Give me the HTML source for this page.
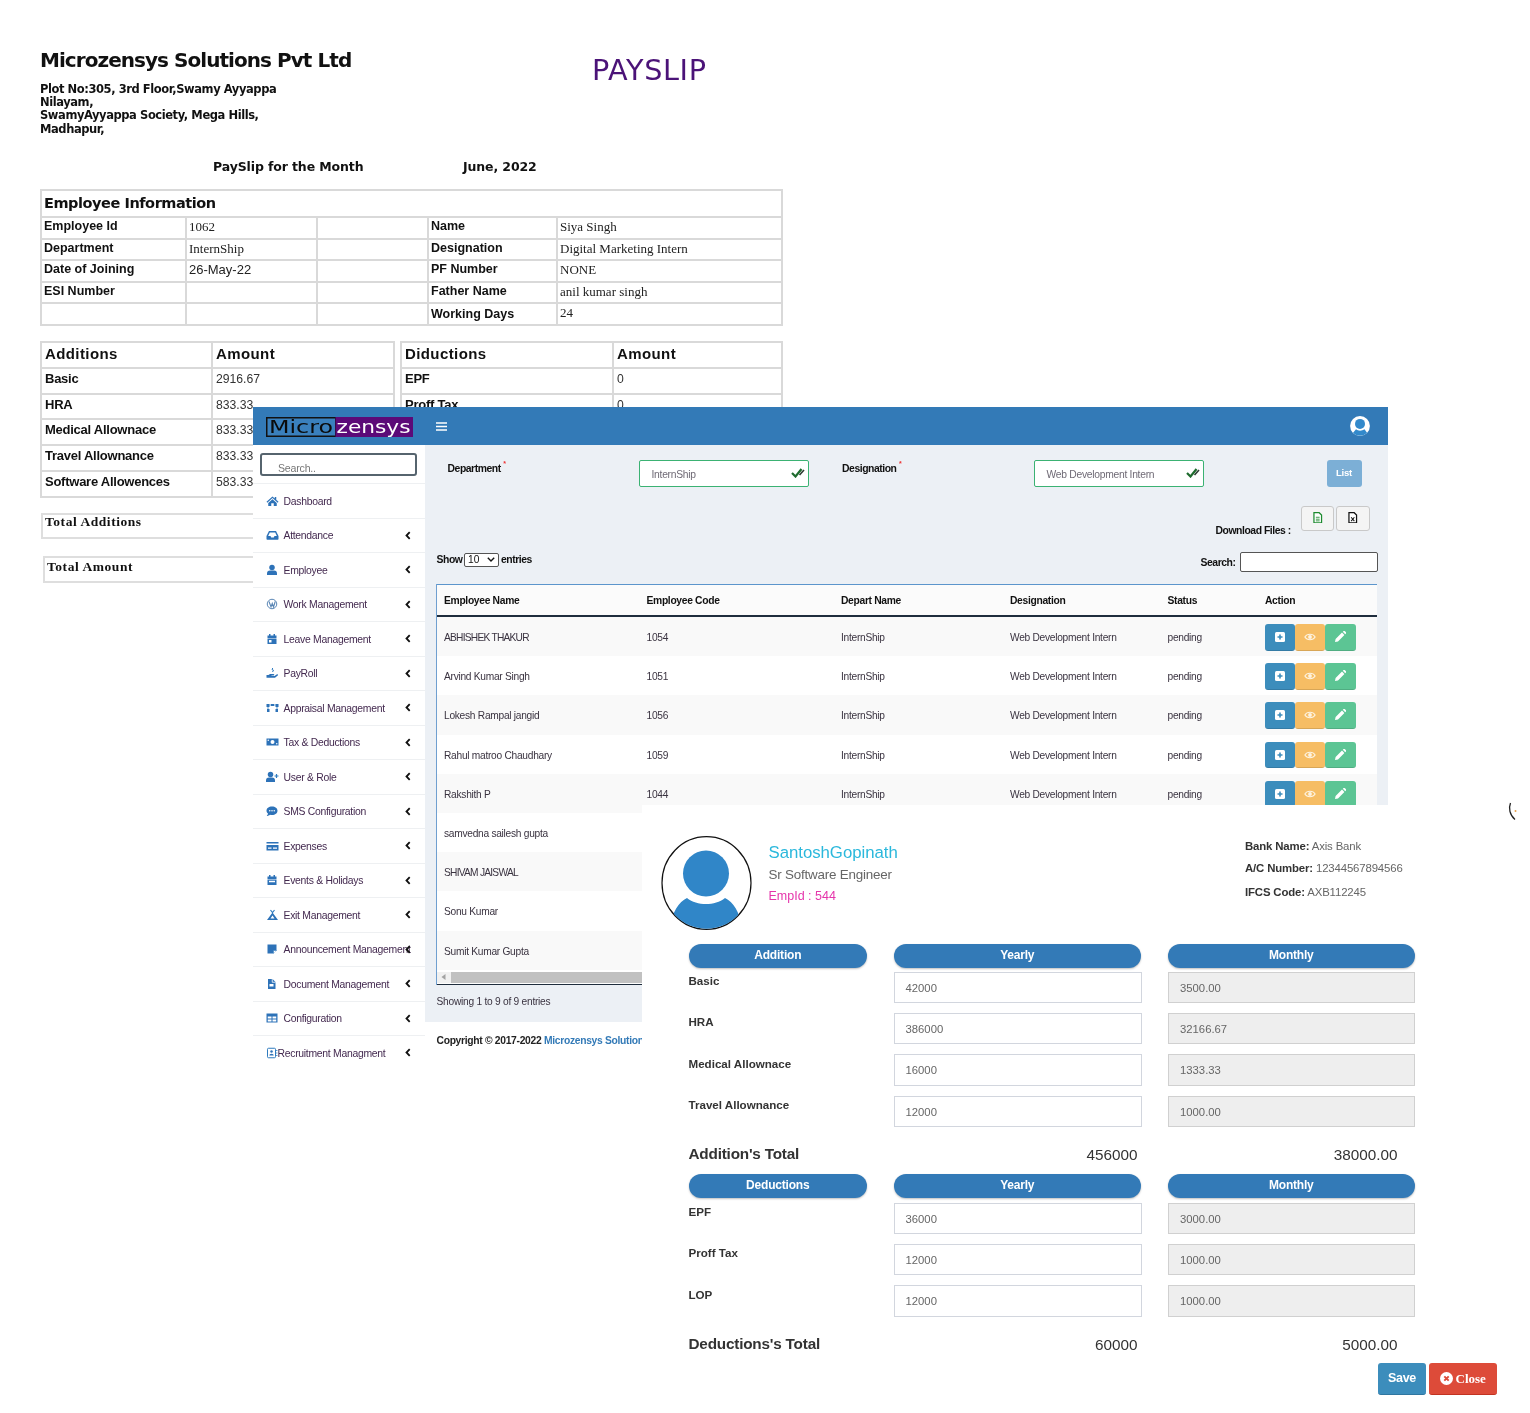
<!DOCTYPE html>
<html lang="en">
<head>
<meta charset="utf-8">
<title>Payroll</title>
<style>
*{box-sizing:border-box;margin:0;padding:0}
html,body{width:1530px;height:1413px;background:#fff;overflow:hidden}
body{position:relative;font-family:"Liberation Sans",sans-serif;color:#111}
.abs{position:absolute}
/* ---------- PAYSLIP ---------- */
#slip{position:absolute;left:0;top:0;width:800px;height:620px;background:#fff}
#slip .co{position:absolute;left:40px;top:47px;font:bold 20px/26px "DejaVu Sans",sans-serif;color:#111;white-space:nowrap;letter-spacing:-0.95px}
#slip .addr{position:absolute;left:40px;top:82.5px;font:bold 11.5px/13.4px "DejaVu Sans",sans-serif;color:#111;white-space:nowrap;letter-spacing:-0.43px}
#slip .ttl{position:absolute;left:592px;top:51.5px;font:28.7px/36px "DejaVu Sans",sans-serif;color:#4b1378;white-space:nowrap;letter-spacing:0.6px}
#slip .mon{position:absolute;top:158px;font:bold 12.5px/18px "DejaVu Sans",sans-serif;color:#111;white-space:nowrap;letter-spacing:-0.12px}
table.ps{position:absolute;border-collapse:collapse;border:2px solid #d9d9d9;table-layout:fixed}
table.ps td{border:2px solid #d9d9d9;padding:0 2px;white-space:nowrap;overflow:hidden;vertical-align:top}

table.ps .h{font:bold 14.5px/24px "DejaVu Sans",sans-serif;letter-spacing:-0.45px}
table.ps .l{font:bold 12.5px/17px "Liberation Sans",sans-serif}
table.ps .v{font:13px/17px "Liberation Serif",serif;color:#222}
table.ps .a{font:13px/17px "Liberation Sans",sans-serif;color:#222}
table.ad td{padding:0 3px}
table.ad .h{font:bold 15px/22px "Liberation Sans",sans-serif;letter-spacing:0.4px}
table.ad .l{font:bold 13px/19px "Liberation Sans",sans-serif;letter-spacing:-0.25px}
table.ad .a{font:12.2px/20px "Liberation Sans",sans-serif;color:#333}
.tot{position:absolute;border:2px solid #dedede;font:bold 13.5px/17px "Liberation Serif",serif;padding:0 2px;letter-spacing:0.55px;color:#111}

/* ---------- ADMIN ---------- */
#adm{position:absolute;left:253px;top:407px;width:1135px;height:680px;background:#fff;overflow:hidden;font-family:"Liberation Sans",sans-serif;color:#3a3340}
#bar{position:absolute;left:0;top:0;width:1135px;height:38px;background:#337ab7}
#logo{position:absolute;left:13px;top:10px;width:147px;height:20px}
#side{position:absolute;left:0;top:38px;width:172px;height:642px;background:#fff}
#sbox{position:absolute;left:7px;top:8px;width:157px;height:23px;border:2px solid #56646e;border-radius:3px;font:10.6px/26px "Liberation Sans",sans-serif;color:#777;padding-left:16px;letter-spacing:-0.2px}
.mi{position:absolute;left:0;width:172px;height:34.5px;border-top:1.5px solid #eef0f2;font:10.4px/34px "Liberation Sans",sans-serif;color:#43294f;white-space:nowrap;letter-spacing:-0.28px}
.mi>svg{position:absolute;left:13px;top:10.5px;width:13px;height:12px;fill:#2d72b8}
.mi span{position:absolute;left:30.5px;top:0.5px}
.mi i{position:absolute;left:152px;top:12px;width:6px;height:9px;line-height:0}
#main{position:absolute;left:172px;top:38px;width:963px;height:577px;background:#ecf0f5}
.lb{position:absolute;font:bold 10.4px/14px "Liberation Sans",sans-serif;color:#111;white-space:nowrap;letter-spacing:-0.45px}
.sel{position:absolute;height:27px;width:170px;background:#fff;border:1.5px solid #3bb273;border-radius:2px;font:10.3px/27px "Liberation Sans",sans-serif;color:#6f6a75;padding-left:11.5px;white-space:nowrap;letter-spacing:-0.27px}
.sel svg{position:absolute;right:3px;top:6px;width:14px;height:11px}
.dl{position:absolute;top:60.5px;width:33px;height:25px;background:#f4f4f4;border:1px solid #c9c9c9;border-radius:3px}
.dl svg{position:absolute;left:11px;top:5px;width:9.5px;height:11.5px}
#tbl{position:absolute;left:11px;top:139px;width:941px;height:401px;border-left:1.5px solid #6f9fd0;background:#fff;overflow:hidden}
#tbl .hd{position:absolute;left:0;top:0;width:941px;height:32.5px;background:#fbfbfb;border-top:1.5px solid #5b95cc;border-bottom:2px solid #1f2d3d}
#tbl .hd b{position:absolute;top:8.5px;font:bold 10.3px/14px "Liberation Sans",sans-serif;color:#111;white-space:nowrap;letter-spacing:-0.32px}
.tr{position:absolute;left:0;width:941px;height:39.2px;font:10.2px/41px "Liberation Sans",sans-serif;color:#3a3340;white-space:nowrap;letter-spacing:-0.27px}
.tr.o{background:#f9f9f9}
.tr span{position:absolute;top:0}
.bt{position:absolute;top:7px;width:30px;height:26.5px;border-radius:3px;border-bottom:1px solid rgba(0,0,0,.12)}
.bt svg{position:absolute;left:9px;top:7px;width:12px;height:12px;fill:#fff}
/* ---------- MODAL ---------- */
#mod{position:absolute;left:642px;top:805px;width:888px;height:608px;background:#fff;font-family:"Liberation Sans",sans-serif;color:#333}
.pill{position:absolute;height:24px;border-radius:12px;background:#337ab7;color:#fff;font:bold 12px/23px "Liberation Sans",sans-serif;text-align:center;box-shadow:0 1px 2px rgba(0,0,0,.25);letter-spacing:-0.2px}
.fl{position:absolute;left:46.5px;font:bold 11.6px/14px "Liberation Sans",sans-serif;color:#333;white-space:nowrap}
.in{position:absolute;height:31.5px;width:248px;border:1px solid #d2d6de;background:#fff;font:11.3px/31px "Liberation Sans",sans-serif;color:#666;padding-left:11px}
.in.d{background:#eee;border-color:#d0d0d0}
.tt{position:absolute;font:bold 15.3px/20px "Liberation Sans",sans-serif;color:#333;white-space:nowrap;letter-spacing:-0.2px}
.tv{position:absolute;font:15.3px/20px "Liberation Sans",sans-serif;color:#333;white-space:nowrap;text-align:right;width:120px}
.bk{position:absolute;left:603px;font:11.4px/14px "Liberation Sans",sans-serif;color:#666;white-space:nowrap;letter-spacing:-0.15px}
.bk b{color:#333}
</style>
</head>
<body>
<div id="slip">
  <div class="co">Microzensys Solutions Pvt Ltd</div>
  <div class="addr">Plot No:305, 3rd Floor,Swamy Ayyappa<br>Nilayam,<br>SwamyAyyappa Society, Mega Hills,<br>Madhapur,</div>
  <div class="ttl">PAYSLIP</div>
  <div class="mon" style="left:213px">PaySlip for the Month</div>
  <div class="mon" style="left:463px">June, 2022</div>

  <table class="ps emp" style="left:40px;top:189px;width:743px">
    <colgroup><col style="width:145px"><col style="width:131px"><col style="width:111px"><col style="width:129px"><col></colgroup>
    <tr style="height:27px"><td colspan="5" class="h">Employee Information</td></tr>
    <tr style="height:21.5px"><td class="l">Employee Id</td><td class="v">1062</td><td></td><td class="l">Name</td><td class="v">Siya Singh</td></tr>
    <tr style="height:21.5px"><td class="l">Department</td><td class="v">InternShip</td><td></td><td class="l">Designation</td><td class="v">Digital Marketing Intern</td></tr>
    <tr style="height:21.5px"><td class="l">Date of Joining</td><td class="a">26-May-22</td><td></td><td class="l">PF Number</td><td class="v">NONE</td></tr>
    <tr style="height:21.5px"><td class="l">ESI Number</td><td></td><td></td><td class="l">Father Name</td><td class="v">anil kumar singh</td></tr>
    <tr style="height:21.5px"><td></td><td></td><td></td><td class="l" style="padding-top:2px">Working Days</td><td class="v">24</td></tr>
  </table>
  <table class="ps ad" style="left:40px;top:341px;width:355px">
    <colgroup><col style="width:171px"><col></colgroup>
    <tr style="height:25.8px"><td class="h">Additions</td><td class="h">Amount</td></tr>
    <tr style="height:25.8px"><td class="l">Basic</td><td class="a">2916.67</td></tr>
    <tr style="height:25.8px"><td class="l">HRA</td><td class="a">833.33</td></tr>
    <tr style="height:25.8px"><td class="l">Medical Allownace</td><td class="a">833.33</td></tr>
    <tr style="height:25.8px"><td class="l">Travel Allownance</td><td class="a">833.33</td></tr>
    <tr style="height:25.8px"><td class="l">Software Allowences</td><td class="a">583.33</td></tr>
  </table>
  <table class="ps ad" style="left:400px;top:341px;width:383px">
    <colgroup><col style="width:212px"><col></colgroup>
    <tr style="height:25.8px"><td class="h">Diductions</td><td class="h">Amount</td></tr>
    <tr style="height:25.8px"><td class="l">EPF</td><td class="a">0</td></tr>
    <tr style="height:25.8px"><td class="l">Proff Tax</td><td class="a">0</td></tr>
  </table>
  <div class="tot" style="left:41px;top:512.5px;width:300px;height:26.5px;line-height:14px">Total Additions</div>
  <div class="tot" style="left:43px;top:556px;width:300px;height:27px">Total Amount</div>
</div>

<div id="adm">
  <div id="bar">
    <svg id="logo" viewBox="0 0 147 20" width="147" height="20">
      <rect x="0.750" y="0.750" width="69" height="18.500" fill="#3a80bd" stroke="#111" stroke-width="1.500"/>
      <rect x="69.500" y="0" width="77.500" height="20" fill="#5c0a78"/>
      <text x="3" y="16" font-family="DejaVu Sans, sans-serif" font-size="17" fill="#0a0a0a" textLength="64" lengthAdjust="spacingAndGlyphs">Micro</text>
      <text x="70.500" y="16" font-family="DejaVu Sans, sans-serif" font-size="17" fill="#fff" textLength="74" lengthAdjust="spacingAndGlyphs">zensys</text>
    </svg>
    <svg class="abs" style="left:183px;top:14.500px" width="11" height="9" viewBox="0 0 11 9"><path d="M0 1 H11 M0 4.500 H11 M0 8 H11" stroke="#fff" stroke-width="1.700"/></svg>
    <svg class="abs" style="left:1097px;top:9px" width="20" height="20" viewBox="0 0 20 20"><defs><clipPath id="cq"><circle cx="10" cy="10" r="9.8"/></clipPath></defs><circle cx="10" cy="10" r="9.9" fill="#fff"/><g clip-path="url(#cq)" fill="#3289cb"><circle cx="10" cy="7.9" r="5"/><path d="M2 20 L2.5 17.5 L6 13.3 C8 15.2 12 15.2 14.5 13.3 L17.5 17.5 L18 20 Z"/></g></svg>
  </div>
  <div id="side">
    <div id="sbox">Search..</div>
    <div class="mi" style="top:38.0px"><svg viewBox="0 0 26 22"><path d="M13 2 L1 12.5 L2.6 14.3 L13 5.2 L23.4 14.3 L25 12.5 L20.5 8.5 V3 H17.5 V6 Z"/><path d="M13 7.5 L4.5 15 V21 H10.5 V15.5 H15.5 V21 H21.5 V15 Z"/></svg><span>Dashboard</span></div>
<div class="mi" style="top:72.5px"><svg viewBox="0 0 26 22"><path d="M6 3 H20 L25 13 V19 a1.5 1.5 0 0 1 -1.5 1.5 H2.5 A1.5 1.5 0 0 1 1 19 V13 Z M7.6 6 L4.3 13 H9 L10.5 16 H15.5 L17 13 H21.7 L18.4 6 Z"/></svg><span>Attendance</span><i><svg viewBox="0 0 6 9" width="6" height="9"><path d="M4.7 1.2 L1.5 4.5 L4.7 7.8" fill="none" stroke="#111" stroke-width="1.8"/></svg></i></div>
<div class="mi" style="top:107.0px"><svg viewBox="0 0 26 22"><circle cx="12" cy="6" r="5.5"/><path d="M2 21 V18 a6 6 0 0 1 6 -6 H16 a6 6 0 0 1 6 6 V21 Z"/></svg><span>Employee</span><i><svg viewBox="0 0 6 9" width="6" height="9"><path d="M4.7 1.2 L1.5 4.5 L4.7 7.8" fill="none" stroke="#111" stroke-width="1.8"/></svg></i></div>
<div class="mi" style="top:141.5px"><svg viewBox="0 0 26 22"><circle cx="12" cy="11" r="9.5" fill="none" stroke="#5a86b5" stroke-width="2"/><path d="M6 6 L10 17 L12.5 10 L15 17 L18.5 6" fill="none" stroke="#5a86b5" stroke-width="2.2"/></svg><span>Work Management</span><i><svg viewBox="0 0 6 9" width="6" height="9"><path d="M4.7 1.2 L1.5 4.5 L4.7 7.8" fill="none" stroke="#111" stroke-width="1.8"/></svg></i></div>
<div class="mi" style="top:176.0px"><svg viewBox="0 0 26 22"><path d="M3 4 H21 V9 H3 Z M3 10 H21 V21 H3 Z M6 1 H9 V4 H6 Z M15 1 H18 V4 H15 Z"/><rect x="6" y="13" width="5" height="5" fill="#fff"/></svg><span>Leave Management</span><i><svg viewBox="0 0 6 9" width="6" height="9"><path d="M4.7 1.2 L1.5 4.5 L4.7 7.8" fill="none" stroke="#111" stroke-width="1.8"/></svg></i></div>
<div class="mi" style="top:210.5px"><svg viewBox="0 0 26 22"><path d="M1 15 H5 L8 13 H15 a1.5 1.5 0 0 1 0 3 H11 V17 H17 L22 13.5 a1.5 1.5 0 0 1 2 2 L18 20.5 H1 Z"/><path d="M13.5 1 L12 4 L15 5.5 L13 9" fill="none" stroke="#2f7bbf" stroke-width="2"/></svg><span>PayRoll</span><i><svg viewBox="0 0 6 9" width="6" height="9"><path d="M4.7 1.2 L1.5 4.5 L4.7 7.8" fill="none" stroke="#111" stroke-width="1.8"/></svg></i></div>
<div class="mi" style="top:245.0px"><svg viewBox="0 0 26 22"><rect x="1" y="3" width="6" height="6"/><rect x="10" y="3" width="6" height="4"/><rect x="19" y="3" width="6" height="6"/><rect x="2" y="13" width="5" height="6"/><rect x="19" y="13" width="5" height="6"/><path d="M7 5 H10 M16 5 H19 M4 9 V13 M22 9 V13" stroke="#2f7bbf" stroke-width="1.5"/></svg><span>Appraisal Management</span><i><svg viewBox="0 0 6 9" width="6" height="9"><path d="M4.7 1.2 L1.5 4.5 L4.7 7.8" fill="none" stroke="#111" stroke-width="1.8"/></svg></i></div>
<div class="mi" style="top:279.5px"><svg viewBox="0 0 26 22"><path d="M1 4 H25 V18 H1 Z"/><circle cx="13" cy="11" r="4" fill="#fff"/><circle cx="4.5" cy="7.5" r="1.5" fill="#fff"/><circle cx="21.500" cy="14.5" r="1.5" fill="#fff"/></svg><span>Tax &amp; Deductions</span><i><svg viewBox="0 0 6 9" width="6" height="9"><path d="M4.7 1.2 L1.5 4.5 L4.7 7.8" fill="none" stroke="#111" stroke-width="1.8"/></svg></i></div>
<div class="mi" style="top:314.0px"><svg viewBox="0 0 26 22"><circle cx="9" cy="6" r="5.5"/><path d="M0 21 V18 a6 6 0 0 1 6 -6 H12 a6 6 0 0 1 6 6 V21 Z"/><path d="M21 5 V13 M17 9 H25" stroke="#2f7bbf" stroke-width="2.4"/></svg><span>User &amp; Role</span><i><svg viewBox="0 0 6 9" width="6" height="9"><path d="M4.7 1.2 L1.5 4.5 L4.7 7.8" fill="none" stroke="#111" stroke-width="1.8"/></svg></i></div>
<div class="mi" style="top:348.5px"><svg viewBox="0 0 26 22"><path d="M12 2 C18.5 2 23 5.8 23 10.500 C23 15.200 18.500 19 12 19 C10.500 19 9.200 18.800 8 18.400 C6.500 19.800 4.200 20.800 1.500 21 C3 19.500 3.800 17.800 4 16.200 C2.100 14.700 1 12.700 1 10.500 C1 5.800 5.500 2 12 2 Z"/><circle cx="7.500" cy="10.500" r="1.500" fill="#fff"/><circle cx="12" cy="10.500" r="1.500" fill="#fff"/><circle cx="16.500" cy="10.500" r="1.500" fill="#fff"/></svg><span>SMS Configuration</span><i><svg viewBox="0 0 6 9" width="6" height="9"><path d="M4.7 1.2 L1.5 4.5 L4.7 7.8" fill="none" stroke="#111" stroke-width="1.8"/></svg></i></div>
<div class="mi" style="top:383.0px"><svg viewBox="0 0 26 22"><path d="M1 3 H25 V6 H1 Z M1 9 H25 V20 H1 Z"/><rect x="4" y="14" width="7" height="2.500" fill="#fff"/><rect x="14" y="14" width="8" height="2.500" fill="#fff"/></svg><span>Expenses</span><i><svg viewBox="0 0 6 9" width="6" height="9"><path d="M4.7 1.2 L1.5 4.5 L4.7 7.8" fill="none" stroke="#111" stroke-width="1.8"/></svg></i></div>
<div class="mi" style="top:417.5px"><svg viewBox="0 0 26 22"><path d="M3 4 H21 V9 H3 Z M3 10 H21 V21 H3 Z M6 1 H9 V4 H6 Z M15 1 H18 V4 H15 Z"/><rect x="6" y="12.500" width="12" height="3" fill="#fff"/></svg><span>Events &amp; Holidays</span><i><svg viewBox="0 0 6 9" width="6" height="9"><path d="M4.7 1.2 L1.5 4.5 L4.7 7.8" fill="none" stroke="#111" stroke-width="1.8"/></svg></i></div>
<div class="mi" style="top:452.0px"><svg viewBox="0 0 26 22"><path d="M13 6 L24 21 H2 Z M13 12 L9 18 H17 Z" fill-rule="evenodd"/><path d="M9 1 L13 6 L17 1" fill="none" stroke="#2f7bbf" stroke-width="2.4"/></svg><span>Exit Management</span><i><svg viewBox="0 0 6 9" width="6" height="9"><path d="M4.7 1.2 L1.5 4.5 L4.7 7.8" fill="none" stroke="#111" stroke-width="1.8"/></svg></i></div>
<div class="mi" style="top:486.5px"><svg viewBox="0 0 26 22"><path d="M3 2 H21 V14 L15 20 H3 Z"/><path d="M15 20 V14 H21" fill="#fff" stroke="#2f7bbf" stroke-width="1"/></svg><span>Announcement Management</span><i><svg viewBox="0 0 6 9" width="6" height="9"><path d="M4.7 1.2 L1.5 4.5 L4.7 7.8" fill="none" stroke="#111" stroke-width="1.8"/></svg></i></div>
<div class="mi" style="top:521.0px"><svg viewBox="0 0 26 22"><path d="M4 1 H13 L19 7 V21 H4 Z"/><path d="M12.500 1 V7.500 H19" fill="none" stroke="#fff" stroke-width="1.600"/><rect x="7" y="11" width="8" height="5" fill="#fff"/></svg><span>Document Management</span><i><svg viewBox="0 0 6 9" width="6" height="9"><path d="M4.7 1.2 L1.5 4.5 L4.7 7.8" fill="none" stroke="#111" stroke-width="1.8"/></svg></i></div>
<div class="mi" style="top:555.5px"><svg viewBox="0 0 26 22"><path d="M1 2 H23 V20 H1 Z"/><rect x="3.500" y="8" width="7.500" height="4" fill="#fff"/><rect x="13" y="8" width="7.500" height="4" fill="#fff"/><rect x="3.500" y="14" width="7.500" height="4" fill="#fff"/><rect x="13" y="14" width="7.500" height="4" fill="#fff"/></svg><span>Configuration</span><i><svg viewBox="0 0 6 9" width="6" height="9"><path d="M4.7 1.2 L1.5 4.5 L4.7 7.8" fill="none" stroke="#111" stroke-width="1.8"/></svg></i></div>
<div class="mi" style="top:590.0px"><svg viewBox="0 0 26 22"><rect x="3" y="1.500" width="16" height="19" rx="2" fill="none" stroke="#2f7bbf" stroke-width="2"/><circle cx="11" cy="8" r="2.500"/><path d="M6.500 16 a4.500 3.500 0 0 1 9 0 Z"/><path d="M20 6 H23 M20 11 H23 M20 16 H23" stroke="#2f7bbf" stroke-width="1.500"/></svg><span style="left:24.5px">Recruitment Managment</span><i><svg viewBox="0 0 6 9" width="6" height="9"><path d="M4.7 1.2 L1.5 4.5 L4.7 7.8" fill="none" stroke="#111" stroke-width="1.8"/></svg></i></div>

  </div>
  <div id="main">
    <div class="lb" style="left:22.500px;top:12px">Department <span style="color:#e33;font-size:7px;vertical-align:6px">*</span></div>
    <div class="sel" style="left:214px;top:14.5px">InternShip<svg viewBox="0 0 14 11"><path d="M1 6 L4.500 9.500 L10.500 2" fill="none" stroke="#1e6b2e" stroke-width="2.200"/><path d="M8.500 8 L13 3" fill="none" stroke="#2d3d33" stroke-width="1.600"/></svg></div>
    <div class="lb" style="left:417px;top:12px">Designation <span style="color:#e33;font-size:7px;vertical-align:6px">*</span></div>
    <div class="sel" style="left:609px;top:14.5px">Web Development Intern<svg viewBox="0 0 14 11"><path d="M1 6 L4.500 9.500 L10.500 2" fill="none" stroke="#1e6b2e" stroke-width="2.200"/><path d="M8.500 8 L13 3" fill="none" stroke="#2d3d33" stroke-width="1.600"/></svg></div>
    <div class="abs" style="left:901.5px;top:15px;width:35px;height:26.500px;background:#7cafd6;border-radius:3px;color:#fff;font:bold 9.6px/25px 'Liberation Sans',sans-serif;text-align:center;letter-spacing:-0.3px">List</div>
    <div class="lb" style="left:790.500px;top:79px">Download Files :</div>
    <div class="dl" style="left:876px"><svg viewBox="0 0 10 12"><path d="M1 0.700 H6.500 L9 3.200 V11.300 H1 Z" fill="#fff" stroke="#1c8a2e" stroke-width="1.300"/><path d="M3 5.500 H7 M3 7.500 H7 M3 9.300 H7" stroke="#1c8a2e" stroke-width="0.900"/></svg></div>
    <div class="dl" style="left:911px;width:33.500px"><svg viewBox="0 0 10 12"><path d="M1 0.700 H6.500 L9 3.200 V11.300 H1 Z" fill="#fff" stroke="#111" stroke-width="1.300"/><path d="M3.300 5.500 L6.700 9.500 M6.700 5.500 L3.300 9.500" stroke="#111" stroke-width="1.100"/></svg></div>
    <div class="lb" style="left:11.500px;top:108px">Show</div>
    <div class="abs" style="left:39px;top:107.500px;width:35px;height:14px;background:#fff;border:1px solid #555;border-radius:2px;font:10.200px/12px 'Liberation Sans',sans-serif;color:#111;padding-left:3px">10<svg class="abs" style="left:22px;top:3.500px" width="8" height="5" viewBox="0 0 8 5"><path d="M0.800 0.800 L4 4 L7.200 0.800" fill="none" stroke="#111" stroke-width="1.400"/></svg></div>
    <div class="lb" style="left:76px;top:108px">entries</div>
    <div class="lb" style="left:775.500px;top:110.500px">Search:</div>
    <div class="abs" style="left:815px;top:107px;width:137.500px;height:20px;background:#fff;border:1px solid #555;border-radius:2px"></div>
    <div id="tbl">
      <div class="hd"><b style="left:7px">Employee Name</b><b style="left:209.500px">Employee Code</b><b style="left:404px">Depart Name</b><b style="left:573px">Designation</b><b style="left:730.500px">Status</b><b style="left:828px">Action</b></div>
      <div class="tr o" style="top:33.0px"><span style="left:7px;letter-spacing:-0.75px">ABHISHEK THAKUR</span><span style="left:209.500px">1054</span><span style="left:404px">InternShip</span><span style="left:573px">Web Development Intern</span><span style="left:730.500px">pending</span><div class="bt" style="left:828px;background:#3c8dbc"><svg viewBox="0 0 12 12"><rect x="1" y="1" width="10" height="10" rx="1.500" fill="#fff"/><path d="M6 3.500 V8.500 M3.500 6 H8.500" stroke="#3c8dbc" stroke-width="1.600"/></svg></div><div class="bt" style="left:857.500px;background:#f6bd64;width:30.500px"><svg viewBox="0 0 14 12"><path d="M1 6 C3.500 1.800 10.500 1.800 13 6 C10.500 10.200 3.500 10.200 1 6 Z" fill="none" stroke="#fdf3e1" stroke-width="1.300"/><circle cx="7" cy="6" r="2.200" fill="#fdf3e1"/></svg></div><div class="bt" style="left:888px;background:#5cc594;width:30.500px"><svg viewBox="0 0 12 12"><path d="M1 11 L1.600 8 L8 1.600 L10.400 4 L4 10.400 Z M8.800 0.800 L9.600 0 a0.800 0.800 0 0 1 1.100 0 L12 1.300 a0.800 0.800 0 0 1 0 1.100 L11.200 3.200 Z" fill="#fff"/></svg></div></div>
<div class="tr" style="top:72.2px"><span style="left:7px">Arvind Kumar Singh</span><span style="left:209.500px">1051</span><span style="left:404px">InternShip</span><span style="left:573px">Web Development Intern</span><span style="left:730.500px">pending</span><div class="bt" style="left:828px;background:#3c8dbc"><svg viewBox="0 0 12 12"><rect x="1" y="1" width="10" height="10" rx="1.500" fill="#fff"/><path d="M6 3.500 V8.500 M3.500 6 H8.500" stroke="#3c8dbc" stroke-width="1.600"/></svg></div><div class="bt" style="left:857.500px;background:#f6bd64;width:30.500px"><svg viewBox="0 0 14 12"><path d="M1 6 C3.500 1.800 10.500 1.800 13 6 C10.500 10.200 3.500 10.200 1 6 Z" fill="none" stroke="#fdf3e1" stroke-width="1.300"/><circle cx="7" cy="6" r="2.200" fill="#fdf3e1"/></svg></div><div class="bt" style="left:888px;background:#5cc594;width:30.500px"><svg viewBox="0 0 12 12"><path d="M1 11 L1.600 8 L8 1.600 L10.400 4 L4 10.400 Z M8.800 0.800 L9.600 0 a0.800 0.800 0 0 1 1.100 0 L12 1.300 a0.800 0.800 0 0 1 0 1.100 L11.200 3.200 Z" fill="#fff"/></svg></div></div>
<div class="tr o" style="top:111.4px"><span style="left:7px">Lokesh Rampal jangid</span><span style="left:209.500px">1056</span><span style="left:404px">InternShip</span><span style="left:573px">Web Development Intern</span><span style="left:730.500px">pending</span><div class="bt" style="left:828px;background:#3c8dbc"><svg viewBox="0 0 12 12"><rect x="1" y="1" width="10" height="10" rx="1.500" fill="#fff"/><path d="M6 3.500 V8.500 M3.500 6 H8.500" stroke="#3c8dbc" stroke-width="1.600"/></svg></div><div class="bt" style="left:857.500px;background:#f6bd64;width:30.500px"><svg viewBox="0 0 14 12"><path d="M1 6 C3.500 1.800 10.500 1.800 13 6 C10.500 10.200 3.500 10.200 1 6 Z" fill="none" stroke="#fdf3e1" stroke-width="1.300"/><circle cx="7" cy="6" r="2.200" fill="#fdf3e1"/></svg></div><div class="bt" style="left:888px;background:#5cc594;width:30.500px"><svg viewBox="0 0 12 12"><path d="M1 11 L1.600 8 L8 1.600 L10.400 4 L4 10.400 Z M8.800 0.800 L9.600 0 a0.800 0.800 0 0 1 1.100 0 L12 1.300 a0.800 0.800 0 0 1 0 1.100 L11.200 3.200 Z" fill="#fff"/></svg></div></div>
<div class="tr" style="top:150.6px"><span style="left:7px">Rahul matroo Chaudhary</span><span style="left:209.500px">1059</span><span style="left:404px">InternShip</span><span style="left:573px">Web Development Intern</span><span style="left:730.500px">pending</span><div class="bt" style="left:828px;background:#3c8dbc"><svg viewBox="0 0 12 12"><rect x="1" y="1" width="10" height="10" rx="1.500" fill="#fff"/><path d="M6 3.500 V8.500 M3.500 6 H8.500" stroke="#3c8dbc" stroke-width="1.600"/></svg></div><div class="bt" style="left:857.500px;background:#f6bd64;width:30.500px"><svg viewBox="0 0 14 12"><path d="M1 6 C3.500 1.800 10.500 1.800 13 6 C10.500 10.200 3.500 10.200 1 6 Z" fill="none" stroke="#fdf3e1" stroke-width="1.300"/><circle cx="7" cy="6" r="2.200" fill="#fdf3e1"/></svg></div><div class="bt" style="left:888px;background:#5cc594;width:30.500px"><svg viewBox="0 0 12 12"><path d="M1 11 L1.600 8 L8 1.600 L10.400 4 L4 10.400 Z M8.800 0.800 L9.600 0 a0.800 0.800 0 0 1 1.100 0 L12 1.300 a0.800 0.800 0 0 1 0 1.100 L11.200 3.200 Z" fill="#fff"/></svg></div></div>
<div class="tr o" style="top:189.8px"><span style="left:7px">Rakshith P</span><span style="left:209.500px">1044</span><span style="left:404px">InternShip</span><span style="left:573px">Web Development Intern</span><span style="left:730.500px">pending</span><div class="bt" style="left:828px;background:#3c8dbc"><svg viewBox="0 0 12 12"><rect x="1" y="1" width="10" height="10" rx="1.500" fill="#fff"/><path d="M6 3.500 V8.500 M3.500 6 H8.500" stroke="#3c8dbc" stroke-width="1.600"/></svg></div><div class="bt" style="left:857.500px;background:#f6bd64;width:30.500px"><svg viewBox="0 0 14 12"><path d="M1 6 C3.500 1.800 10.500 1.800 13 6 C10.500 10.200 3.500 10.200 1 6 Z" fill="none" stroke="#fdf3e1" stroke-width="1.300"/><circle cx="7" cy="6" r="2.200" fill="#fdf3e1"/></svg></div><div class="bt" style="left:888px;background:#5cc594;width:30.500px"><svg viewBox="0 0 12 12"><path d="M1 11 L1.600 8 L8 1.600 L10.400 4 L4 10.400 Z M8.800 0.800 L9.600 0 a0.800 0.800 0 0 1 1.100 0 L12 1.300 a0.800 0.800 0 0 1 0 1.100 L11.200 3.200 Z" fill="#fff"/></svg></div></div>
<div class="tr" style="top:229.0px"><span style="left:7px">samvedna sailesh gupta</span><span style="left:209.500px">1060</span><span style="left:404px">InternShip</span><span style="left:573px">Web Development Intern</span><span style="left:730.500px">pending</span><div class="bt" style="left:828px;background:#3c8dbc"><svg viewBox="0 0 12 12"><rect x="1" y="1" width="10" height="10" rx="1.500" fill="#fff"/><path d="M6 3.500 V8.500 M3.500 6 H8.500" stroke="#3c8dbc" stroke-width="1.600"/></svg></div><div class="bt" style="left:857.500px;background:#f6bd64;width:30.500px"><svg viewBox="0 0 14 12"><path d="M1 6 C3.500 1.800 10.500 1.800 13 6 C10.500 10.200 3.500 10.200 1 6 Z" fill="none" stroke="#fdf3e1" stroke-width="1.300"/><circle cx="7" cy="6" r="2.200" fill="#fdf3e1"/></svg></div><div class="bt" style="left:888px;background:#5cc594;width:30.500px"><svg viewBox="0 0 12 12"><path d="M1 11 L1.600 8 L8 1.600 L10.400 4 L4 10.400 Z M8.800 0.800 L9.600 0 a0.800 0.800 0 0 1 1.100 0 L12 1.300 a0.800 0.800 0 0 1 0 1.100 L11.200 3.200 Z" fill="#fff"/></svg></div></div>
<div class="tr o" style="top:268.2px"><span style="left:7px;letter-spacing:-0.75px">SHIVAM JAISWAL</span><span style="left:209.500px">1058</span><span style="left:404px">InternShip</span><span style="left:573px">Web Development Intern</span><span style="left:730.500px">pending</span><div class="bt" style="left:828px;background:#3c8dbc"><svg viewBox="0 0 12 12"><rect x="1" y="1" width="10" height="10" rx="1.500" fill="#fff"/><path d="M6 3.500 V8.500 M3.500 6 H8.500" stroke="#3c8dbc" stroke-width="1.600"/></svg></div><div class="bt" style="left:857.500px;background:#f6bd64;width:30.500px"><svg viewBox="0 0 14 12"><path d="M1 6 C3.500 1.800 10.500 1.800 13 6 C10.500 10.200 3.500 10.200 1 6 Z" fill="none" stroke="#fdf3e1" stroke-width="1.300"/><circle cx="7" cy="6" r="2.200" fill="#fdf3e1"/></svg></div><div class="bt" style="left:888px;background:#5cc594;width:30.500px"><svg viewBox="0 0 12 12"><path d="M1 11 L1.600 8 L8 1.600 L10.400 4 L4 10.400 Z M8.800 0.800 L9.600 0 a0.800 0.800 0 0 1 1.100 0 L12 1.300 a0.800 0.800 0 0 1 0 1.100 L11.200 3.200 Z" fill="#fff"/></svg></div></div>
<div class="tr" style="top:307.4px"><span style="left:7px">Sonu Kumar</span><span style="left:209.500px">1061</span><span style="left:404px">InternShip</span><span style="left:573px">Web Development Intern</span><span style="left:730.500px">pending</span><div class="bt" style="left:828px;background:#3c8dbc"><svg viewBox="0 0 12 12"><rect x="1" y="1" width="10" height="10" rx="1.500" fill="#fff"/><path d="M6 3.500 V8.500 M3.500 6 H8.500" stroke="#3c8dbc" stroke-width="1.600"/></svg></div><div class="bt" style="left:857.500px;background:#f6bd64;width:30.500px"><svg viewBox="0 0 14 12"><path d="M1 6 C3.500 1.800 10.500 1.800 13 6 C10.500 10.200 3.500 10.200 1 6 Z" fill="none" stroke="#fdf3e1" stroke-width="1.300"/><circle cx="7" cy="6" r="2.200" fill="#fdf3e1"/></svg></div><div class="bt" style="left:888px;background:#5cc594;width:30.500px"><svg viewBox="0 0 12 12"><path d="M1 11 L1.600 8 L8 1.600 L10.400 4 L4 10.400 Z M8.800 0.800 L9.600 0 a0.800 0.800 0 0 1 1.100 0 L12 1.300 a0.800 0.800 0 0 1 0 1.100 L11.200 3.200 Z" fill="#fff"/></svg></div></div>
<div class="tr o" style="top:346.6px"><span style="left:7px">Sumit Kumar Gupta</span><span style="left:209.500px">1057</span><span style="left:404px">InternShip</span><span style="left:573px">Web Development Intern</span><span style="left:730.500px">pending</span><div class="bt" style="left:828px;background:#3c8dbc"><svg viewBox="0 0 12 12"><rect x="1" y="1" width="10" height="10" rx="1.500" fill="#fff"/><path d="M6 3.500 V8.500 M3.500 6 H8.500" stroke="#3c8dbc" stroke-width="1.600"/></svg></div><div class="bt" style="left:857.500px;background:#f6bd64;width:30.500px"><svg viewBox="0 0 14 12"><path d="M1 6 C3.500 1.800 10.500 1.800 13 6 C10.500 10.200 3.500 10.200 1 6 Z" fill="none" stroke="#fdf3e1" stroke-width="1.300"/><circle cx="7" cy="6" r="2.200" fill="#fdf3e1"/></svg></div><div class="bt" style="left:888px;background:#5cc594;width:30.500px"><svg viewBox="0 0 12 12"><path d="M1 11 L1.600 8 L8 1.600 L10.400 4 L4 10.400 Z M8.800 0.800 L9.600 0 a0.800 0.800 0 0 1 1.100 0 L12 1.300 a0.800 0.800 0 0 1 0 1.100 L11.200 3.200 Z" fill="#fff"/></svg></div></div>

      <div class="abs" style="left:0;top:387.5px;width:941px;height:11px;background:#f1f1f1"><div class="abs" style="left:14px;top:0;width:927px;height:11px;background:#c1c1c1"></div><svg class="abs" style="left:4px;top:2.500px" width="5" height="6" viewBox="0 0 5 6"><path d="M4.500 0 V6 L0.500 3 Z" fill="#a3a3a3"/></svg></div>
      <div class="abs" style="left:0;top:399.5px;width:941px;height:1.5px;background:#1f2d3d"></div>
    </div>
    <div class="abs" style="left:11.500px;top:549.500px;font:10.200px/14px 'Liberation Sans',sans-serif;color:#3a3340;white-space:nowrap;letter-spacing:-0.25px">Showing 1 to 9 of 9 entries</div>
  </div>
  <div class="abs" style="left:183.500px;top:626.500px;font:bold 10.300px/14px 'Liberation Sans',sans-serif;color:#222;white-space:nowrap;letter-spacing:-0.3px">Copyright © 2017-2022 <span style="color:#337ab7">Microzensys Solutions Pvt. Ltd.</span></div>
</div>
<div id="mod">
<svg class="abs" style="left:19px;top:30.500px" width="91" height="94" viewBox="0 0 91 94"><defs><clipPath id="cp"><ellipse cx="45.500" cy="47" rx="44" ry="45.800"/></clipPath></defs><ellipse cx="45.500" cy="47" rx="44.500" ry="46.300" fill="#fff" stroke="#111" stroke-width="1.200"/><g clip-path="url(#cp)" fill="#3086c8"><circle cx="45" cy="37.500" r="23"/><path d="M10 94 C10 76 18 66 26 62 C36 70 54 70 64 62 C72 66 80 76 80 94 Z"/></g></svg>
<div class="abs" style="left:126.500px;top:37px;font:16.800px/22px 'Liberation Sans',sans-serif;color:#2bb8dc;white-space:nowrap;letter-spacing:-0.03px">SantoshGopinath</div>
<div class="abs" style="left:126.500px;top:61px;font:13.400px/18px 'Liberation Sans',sans-serif;color:#666;white-space:nowrap;letter-spacing:-0.2px">Sr Software Engineer</div>
<div class="abs" style="left:126.500px;top:83px;font:12.500px/16px 'Liberation Sans',sans-serif;color:#e535ab;white-space:nowrap">EmpId : 544</div>
<div class="bk" style="top:33.500px"><b>Bank Name:</b> Axis Bank</div>
<div class="bk" style="top:56px"><b>A/C Number:</b> 12344567894566</div>
<div class="bk" style="top:79.500px"><b>IFCS Code:</b> AXB112245</div>
<div class="pill" style="left:46.500px;top:138.5px;width:178.500px">Addition</div><div class="pill" style="left:251.500px;top:138.5px;width:247.500px">Yearly</div><div class="pill" style="left:526px;top:138.5px;width:246.500px">Monthly</div><div class="fl" style="top:169.0px">Basic</div><div class="in" style="left:251.500px;top:166.5px">42000</div><div class="in d" style="left:526px;top:166.5px;width:246.500px">3500.00</div>
<div class="fl" style="top:210.4px">HRA</div><div class="in" style="left:251.500px;top:207.9px">386000</div><div class="in d" style="left:526px;top:207.9px;width:246.500px">32166.67</div>
<div class="fl" style="top:251.8px">Medical Allownace</div><div class="in" style="left:251.500px;top:249.3px">16000</div><div class="in d" style="left:526px;top:249.3px;width:246.500px">1333.33</div>
<div class="fl" style="top:293.2px">Travel Allownance</div><div class="in" style="left:251.500px;top:290.7px">12000</div><div class="in d" style="left:526px;top:290.7px;width:246.500px">1000.00</div>
<div class="tt" style="left:46.500px;top:339px">Addition's Total</div><div class="tv" style="left:375.500px;top:340px">456000</div><div class="tv" style="left:635.500px;top:340px">38000.00</div>
<div class="pill" style="left:46.500px;top:368.5px;width:178.500px">Deductions</div><div class="pill" style="left:251.500px;top:368.5px;width:247.500px">Yearly</div><div class="pill" style="left:526px;top:368.5px;width:246.500px">Monthly</div><div class="fl" style="top:400.0px">EPF</div><div class="in" style="left:251.500px;top:397.5px">36000</div><div class="in d" style="left:526px;top:397.5px;width:246.500px">3000.00</div>
<div class="fl" style="top:441.3px">Proff Tax</div><div class="in" style="left:251.500px;top:438.8px">12000</div><div class="in d" style="left:526px;top:438.8px;width:246.500px">1000.00</div>
<div class="fl" style="top:482.6px">LOP</div><div class="in" style="left:251.500px;top:480.1px">12000</div><div class="in d" style="left:526px;top:480.1px;width:246.500px">1000.00</div>
<div class="tt" style="left:46.500px;top:528.500px">Deductions's Total</div><div class="tv" style="left:375.500px;top:529.500px">60000</div><div class="tv" style="left:635.500px;top:529.500px">5000.00</div>
<div class="abs" style="left:736px;top:557.500px;width:48px;height:32px;background:#3c8dbc;border-radius:3px;border-bottom:1px solid #2f76a0;color:#fff;font:bold 12.500px/31px 'Liberation Sans',sans-serif;text-align:center;letter-spacing:-0.300px">Save</div>
<div class="abs" style="left:786.500px;top:557.500px;width:68px;height:32px;background:#dd4b39;border-radius:3px;border-bottom:1px solid #c23321;color:#fff;font:bold 13px/31px 'Liberation Serif',serif;white-space:nowrap"><svg class="abs" style="left:11px;top:9.500px" width="13" height="13" viewBox="0 0 13 13"><circle cx="6.500" cy="6.500" r="6.500" fill="#fff"/><path d="M4.300 4.300 L8.700 8.700 M8.700 4.300 L4.300 8.700" stroke="#dd4b39" stroke-width="1.900"/></svg><span class="abs" style="left:27px;top:0">Close</span></div>
<svg class="abs" style="left:866px;top:-3px" width="10" height="20" viewBox="0 0 10 20"><path d="M2.500 1 C0.500 6 1.500 13 7 17.500" fill="none" stroke="#222" stroke-width="1.300"/><circle cx="7.500" cy="9" r="1" fill="#e8a04a"/></svg>
</div>
</body>
</html>
